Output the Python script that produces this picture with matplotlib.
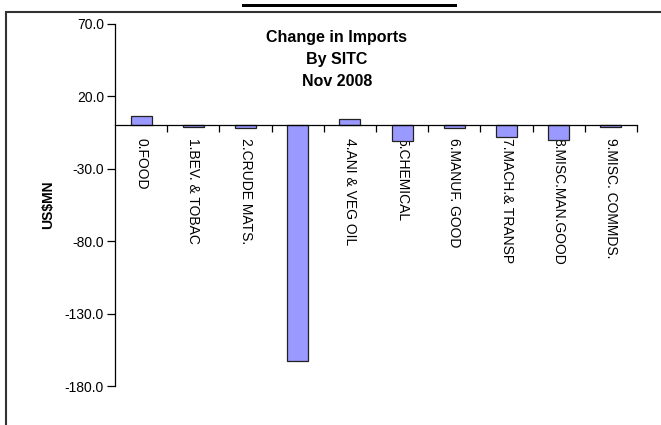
import matplotlib
matplotlib.use("Agg")
import matplotlib.pyplot as plt
from matplotlib.patches import Rectangle
from matplotlib.ticker import FixedLocator, FormatStrFormatter
import numpy as np

# 数据
categories = ["0.FOOD", "1.BEV. & TOBAC", "2.CRUDE MATS.", "3.MIN.FUEL",
              "4.ANI & VEG OIL", "5.CHEMICAL", "6.MANUF. GOOD",
              "7.MACH.& TRANSP", "8.MISC.MAN.GOOD", "9.MISC. COMMDS."]
values = [6.7, -1.2, -2.0, -162.7, 4.4, -11.0, -1.8, -8.0, -10.4, -1.0]
y_ticks = [70, 20, -30, -80, -130, -180]
title_lines = ["Change in Imports", "By SITC", "Nov 2008"]

plt.rcParams["font.family"] = ["Liberation Sans", "DejaVu Sans"]

W, H = 661, 425
fig = plt.figure(figsize=(W / 100, H / 100), dpi=100)
fig.patch.set_facecolor("white")

# 坐标轴位置(像素换算)
ax = fig.add_axes([115 / W, 1 - 386 / H, (637 - 115) / W, (386 - 24) / H])

x = np.arange(len(categories))
ax.bar(x, values, width=0.4, color="#9999FF", edgecolor="#222222", linewidth=0.9, zorder=2)

ax.set_xlim(-0.5, len(categories) - 0.5)
ax.set_ylim(-180, 70)

for s in ["top", "right"]:
    ax.spines[s].set_visible(False)
ax.spines["left"].set_linewidth(0.9)
ax.spines["bottom"].set_position(("data", 0))
ax.spines["bottom"].set_linewidth(0.9)
ax.spines["bottom"].set_zorder(3)

ax.yaxis.set_major_locator(FixedLocator(y_ticks))
ax.yaxis.set_major_formatter(FormatStrFormatter("%.1f"))
ax.tick_params(axis="y", direction="out", length=6, width=0.9, labelsize=10, pad=2)

# x轴: 分隔刻度 + 分类标签
ax.xaxis.set_major_locator(FixedLocator(np.arange(len(categories)) + 0.5))
ax.xaxis.set_major_formatter(plt.NullFormatter())
ax.xaxis.set_minor_locator(FixedLocator(x))
ax.set_xticklabels(categories, minor=True, rotation=-90, fontsize=10)
ax.tick_params(axis="x", which="major", direction="out", length=5, width=0.9)
ax.tick_params(axis="x", which="minor", length=0, pad=9)

# 标题
for i, line in enumerate(title_lines):
    fig.text(337 / W, 1 - (42 + 22 * i) / H, line, ha="center", va="baseline",
             fontsize=11.5, fontweight="bold")

fig.text(48 / W, 1 - 205 / H, "US$MN", rotation=90, ha="center", va="center",
         fontsize=10, fontweight="bold")

# 外框和顶部黑条
fig.patches.append(Rectangle((6 / W, -0.1), 1.2, 1.1 - 12.5 / H, transform=fig.transFigure,
                             fill=False, edgecolor="#333333", linewidth=1.5))
fig.patches.append(Rectangle((242 / W, 1 - 7 / H), 215 / W, 3.5 / H, transform=fig.transFigure,
                             facecolor="black", edgecolor="none"))

fig.savefig("out.png", dpi=100)
